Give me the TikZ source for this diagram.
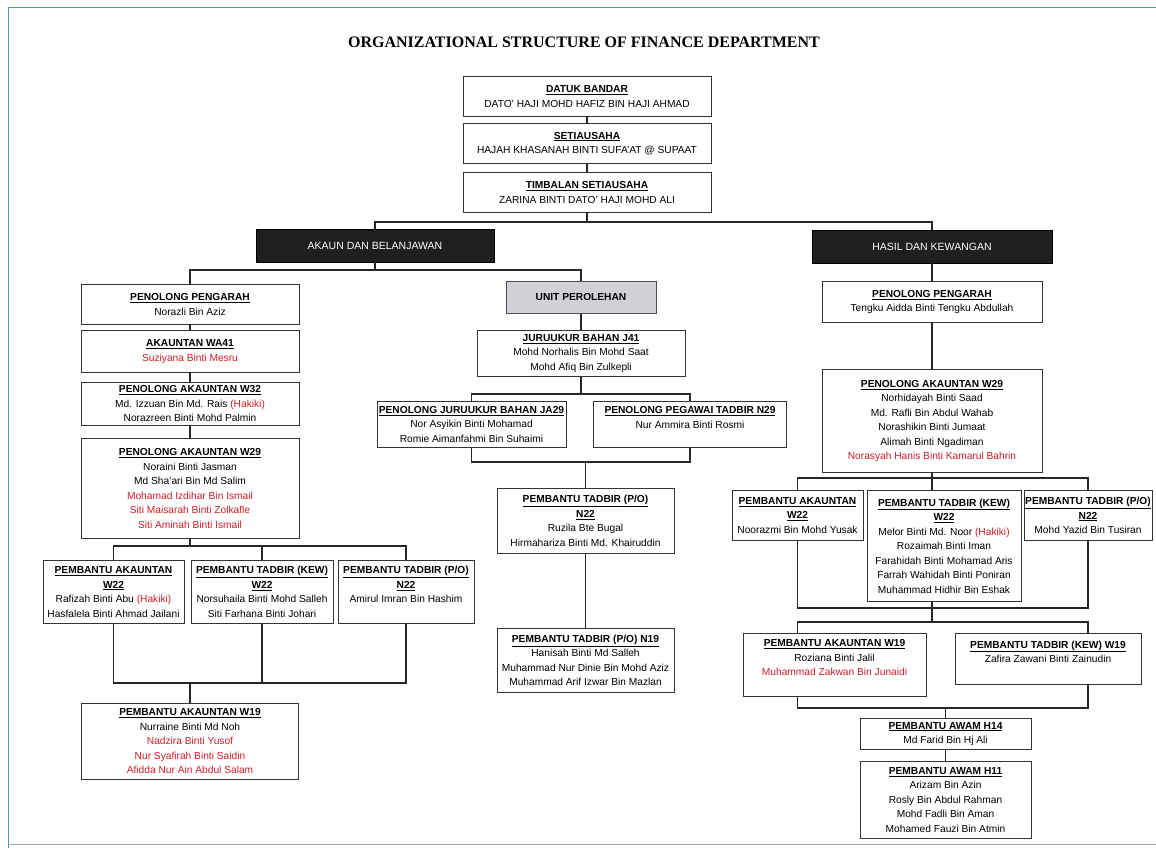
\documentclass[tikz,border=0pt]{standalone}
\usepackage{fontspec}
\setmainfont{Liberation Sans}
\newfontfamily\titlefont{Liberation Serif}
\usetikzlibrary{positioning}
\definecolor{namered}{RGB}{205,30,40}
\definecolor{frameblue}{RGB}{70,150,200}
\definecolor{unitgray}{RGB}{208,208,214}
\newcommand{\hd}[1]{\underline{\textbf{#1}}}
\newcommand{\rd}[1]{\textcolor{namered}{#1}}

\begin{document}
\begin{tikzpicture}[x=1pt,y=-1pt,
  font=\fontsize{10.2}{14.5}\selectfont,
  bx/.style={draw=black!80,fill=white,line width=0.9pt,align=center,anchor=north,
             inner xsep=1pt,inner ysep=1pt},
  dk/.style={draw=black,fill=black!88,text=white,anchor=north,minimum height=33pt,
             font=\fontsize{10.5}{12}\selectfont},
  ln/.style={draw=black!85,line width=1.7pt}
]
\useasboundingbox (0,0) rectangle (1156,848);
% page frame
\draw[frameblue,line width=1pt] (8,848) -- (8,7.5) -- (1156,7.5);
\draw[black!35,line width=1pt] (8,844) -- (1156,844);

\node[font=\titlefont\bfseries\fontsize{16}{18}\selectfont] (title) at (584,42)
  {ORGANIZATIONAL STRUCTURE OF FINANCE DEPARTMENT};

% level 0
\node[bx,minimum width=248,minimum height=40] (bandar) at (587,76)
  {\hd{DATUK BANDAR}\\ DATO' HAJI MOHD HAFIZ BIN HAJI AHMAD};
\node[bx,minimum width=248,minimum height=40] (setia) at (587,123)
  {\hd{SETIAUSAHA}\\ HAJAH KHASANAH BINTI SUFA'AT @ SUPAAT};
\node[bx,minimum width=248,minimum height=40] (timb) at (587,172)
  {\hd{TIMBALAN SETIAUSAHA}\\ ZARINA BINTI DATO' HAJI MOHD ALI};

% divisions
\node[dk,minimum width=238] (akaun) at (375,229) {AKAUN DAN BELANJAWAN};
\node[dk,minimum width=240] (hasil) at (932,230) {HASIL DAN KEWANGAN};

% akaun dan belanjawan
\node[bx,minimum width=218,minimum height=40] (lpp) at (190,284)
  {\hd{PENOLONG PENGARAH}\\ Norazli Bin Aziz};
\node[bx,minimum width=218,minimum height=42] (lwa) at (190,330)
  {\hd{AKAUNTAN WA41}\\ \rd{Suziyana Binti Mesru}};
\node[bx,minimum width=218,minimum height=43] (lw32) at (190,382)
  {\hd{PENOLONG AKAUNTAN W32}\\ Md. Izzuan Bin Md. Rais \rd{(Hakiki)}\\ Norazreen Binti Mohd Palmin};
\node[bx,minimum width=218,minimum height=100] (lw29) at (190,438)
  {\hd{PENOLONG AKAUNTAN W29}\\ Noraini Binti Jasman\\ Md Sha'ari Bin Md Salim\\
   \rd{Mohamad Izdihar Bin Ismail}\\ \rd{Siti Maisarah Binti Zolkafle}\\ \rd{Siti Aminah Binti Ismail}};
\node[bx,minimum width=141,minimum height=63] (lpa22) at (113.5,560)
  {\hd{PEMBANTU AKAUNTAN}\\ \hd{W22}\\ Rafizah Binti Abu \rd{(Hakiki)}\\ Hasfalela Binti Ahmad Jailani};
\node[bx,minimum width=142,minimum height=63] (ltk22) at (262,560)
  {\hd{PEMBANTU TADBIR (KEW)}\\ \hd{W22}\\ Norsuhaila Binti Mohd Salleh\\ Siti Farhana Binti Johari};
\node[bx,minimum width=136,minimum height=63] (lpo22) at (406,560)
  {\hd{PEMBANTU TADBIR (P/O)}\\ \hd{N22}\\ Amirul Imran Bin Hashim\\ \mbox{}};
\node[bx,minimum width=217,minimum height=76] (lpa19) at (190,703)
  {\hd{PEMBANTU AKAUNTAN W19}\\ Nurraine Binti Md Noh\\ \rd{Nadzira Binti Yusof}\\
   \rd{Nur Syafirah Binti Saidin}\\ \rd{Afidda Nur Ain Abdul Salam}};

% unit perolehan
\node[bx,fill=unitgray,draw=black!70,minimum width=150,minimum height=32] (unit) at (581,281)
  {\textbf{UNIT PEROLEHAN}};
\node[bx,minimum width=208,minimum height=46] (j41) at (581,330)
  {\hd{JURUUKUR BAHAN J41}\\ Mohd Norhalis Bin Mohd Saat\\ Mohd Afiq Bin Zulkepli};
\node[bx,minimum width=189,minimum height=46] (ja29) at (471.5,401)
  {\hd{PENOLONG JURUUKUR BAHAN JA29}\\ Nor Asyikin Binti Mohamad\\ Romie Aimanfahmi Bin Suhaimi};
\node[bx,minimum width=193,minimum height=46] (n29) at (690,401)
  {\hd{PENOLONG PEGAWAI TADBIR N29}\\ Nur Ammira Binti Rosmi\\ \mbox{}};
\node[bx,minimum width=177,minimum height=65] (mpo22) at (585.5,488)
  {\hd{PEMBANTU TADBIR (P/O)}\\ \hd{N22}\\ Ruzila Bte Bugal\\ Hirmahariza Binti Md. Khairuddin};
\node[bx,minimum width=177,minimum height=64] (mpo19) at (585.5,628)
  {\hd{PEMBANTU TADBIR (P/O) N19}\\ Hanisah Binti Md Salleh\\ Muhammad Nur Dinie Bin Mohd Aziz\\
   Muhammad Arif Izwar Bin Mazlan};

% hasil dan kewangan
\node[bx,minimum width=220,minimum height=41] (rpp) at (932,281)
  {\hd{PENOLONG PENGARAH}\\ Tengku Aidda Binti Tengku Abdullah};
\node[bx,minimum width=220,minimum height=103] (rw29) at (932,369)
  {\hd{PENOLONG AKAUNTAN W29}\\ Norhidayah Binti Saad\\ Md. Rafli Bin Abdul Wahab\\
   Norashikin Binti Jumaat\\ Alimah Binti Ngadiman\\ \rd{Norasyah Hanis Binti Kamarul Bahrin}};
\node[bx,minimum width=131,minimum height=50] (rpa22) at (797.5,490)
  {\hd{PEMBANTU AKAUNTAN}\\ \hd{W22}\\ Noorazmi Bin Mohd Yusak};
\node[bx,minimum width=154,minimum height=111] (rtk22) at (944,490)
  {\hd{PEMBANTU TADBIR (KEW)}\\ \hd{W22}\\ Melor Binti Md. Noor \rd{(Hakiki)}\\ Rozaimah Binti Iman\\
   Farahidah Binti Mohamad Aris\\ Farrah Wahidah Binti Poniran\\ Muhammad Hidhir Bin Eshak};
\node[bx,minimum width=128,minimum height=50] (rpo22) at (1088,490)
  {\hd{PEMBANTU TADBIR (P/O)}\\ \hd{N22}\\ Mohd Yazid Bin Tusiran};
\node[bx,minimum width=183,minimum height=63] (rpa19) at (834.5,633)
  {\hd{PEMBANTU AKAUNTAN W19}\\ Roziana Binti Jalil\\ \rd{Muhammad Zakwan Bin Junaidi}\\ \mbox{}};
\node[bx,minimum width=186,minimum height=51] (rtk19) at (1048,633)
  {\hd{PEMBANTU TADBIR (KEW) W19}\\ Zafira Zawani Binti Zainudin\\ \mbox{}};
\node[bx,minimum width=171,minimum height=31] (rh14) at (945.5,718)
  {\hd{PEMBANTU AWAM H14}\\ Md Farid Bin Hj Ali};
\node[bx,minimum width=171,minimum height=77] (rh11) at (945.5,761)
  {\hd{PEMBANTU AWAM H11}\\ Arizam Bin Azin\\ Rosly Bin Abdul Rahman\\ Mohd Fadli Bin Aman\\
   Mohamed Fauzi Bin Atmin};

% bar junctions
\coordinate (b0) at (587,222);
\coordinate (b1) at (375,270);
\coordinate (b2) at (190,546);
\coordinate (b3) at (262,683);
\coordinate (b4) at (581,394);
\coordinate (b5) at (585.5,462);
\coordinate (b6) at (932,478);
\coordinate (b7) at (932,608);
\coordinate (b8) at (932,622);
\coordinate (b9) at (945.5,708);

% top chain
\draw[ln] (bandar) -- (setia);
\draw[ln] (setia) -- (timb);
\draw[ln] (timb) -- (b0);
\draw[ln] (akaun.north) |- (b0) -| (hasil.north);

% akaun dan belanjawan
\draw[ln] (akaun) -- (b1);
\draw[ln] (lpp.north) |- (b1) -| (unit.north);
\draw[ln] (lpp) -- (lwa);
\draw[ln] (lwa) -- (lw32);
\draw[ln] (lw32) -- (lw29);
\draw[ln] (lw29) -- (b2);
\draw[ln] (lpa22.north) |- (b2) -| (lpo22.north);
\draw[ln] (ltk22.north) -- (ltk22.north |- b2);
\draw[ln] (lpa22.south) |- (b3) -| (lpo22.south);
\draw[ln] (ltk22) -- (b3);
\draw[ln] (lpa19.north) -- (lpa19.north |- b3);

% unit perolehan
\draw[ln] (unit) -- (j41);
\draw[ln] (j41) -- (b4);
\draw[ln] (ja29.north) |- (b4) -| (n29.north);
\draw[ln] (ja29.south) |- (b5) -| (n29.south);
\draw[ln] (b5) -- (mpo22);
\draw[ln] (mpo22) -- (mpo19);

% hasil dan kewangan
\draw[ln] (hasil) -- (rpp);
\draw[ln] (rpp) -- (rw29);
\draw[ln] (rw29) -- (b6);
\draw[ln] (rpa22.north) |- (b6) -| (rpo22.north);
\draw[ln] (b6) -- (b6 |- rtk22.north);
\draw[ln] (rpa22.south) |- (b7) -| (rpo22.south);
\draw[ln] (b7 |- rtk22.south) -- (b7);
\draw[ln] (b7) -- (b8);
\draw[ln] (rpa22.south |- rpa19.north) |- (b8) -| (rpo22.south |- rtk19.north);
\draw[ln] (rpa22.south |- rpa19.south) |- (b9) -| (rpo22.south |- rtk19.south);
\draw[ln] (b9) -- (rh14);
\draw[ln] (rh14) -- (rh11);
\end{tikzpicture}
\end{document}
